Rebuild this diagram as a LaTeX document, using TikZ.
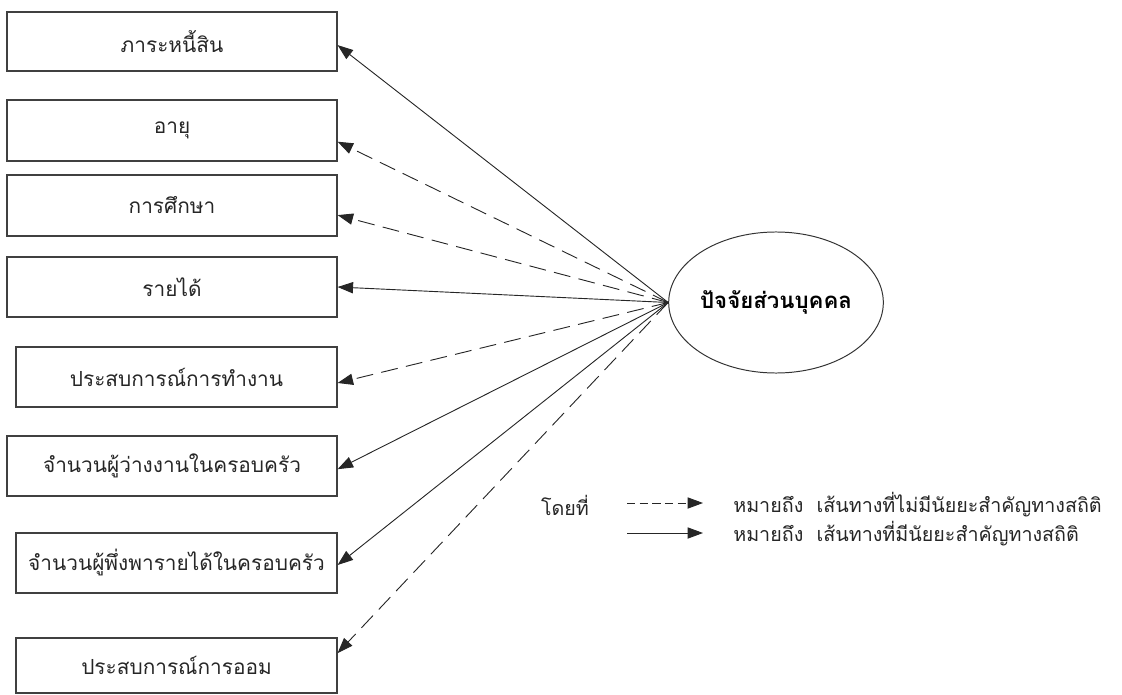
\documentclass[tikz,border=0pt]{standalone}
\usepackage{fontspec}
\setmainfont{Loma}[Script=Thai]
\usetikzlibrary{arrows.meta,shapes.geometric}

\begin{document}
\begin{tikzpicture}[x=0.025cm,y=-0.025cm,font=\fontsize{14pt}{16pt}\selectfont,
  factor/.style={draw=black!75,line width=.8pt,rectangle,text=black!85,minimum height=1.5cm,inner sep=0pt,font=\fontsize{14.8pt}{17pt}\selectfont},
  wide/.style={factor,minimum width=8.25cm},
  narrow/.style={factor,minimum width=8.025cm},
  sig/.style={draw=black!85,line width=.65pt,-{Triangle[length=11pt,width=8pt]}},
  nonsig/.style={sig,dash pattern=on 12pt off 6pt},
  legdash/.style={sig,dash pattern=on 6pt off 3pt}]
\useasboundingbox (0,0) rectangle (1122,695);
% boxes on the left
\node[wide,minimum height=1.475cm] (debt) at (172,41.5) {ภาระหนี้สิน};
\node[wide,minimum height=1.525cm] (age) at (172,130.5) {อายุ};
\node[wide,minimum height=1.525cm] (edu) at (172,205.5) {การศึกษา};
\node[wide] (income) at (172,287) {รายได้};
\node[narrow] (work) at (176.5,377) {ประสบการณ์การทำงาน};
\node[wide] (unemp) at (172,466) {จำนวนผู้ว่างงานในครอบครัว};
\node[narrow] (depend) at (176.5,563) {จำนวนผู้พึ่งพารายได้ในครอบครัว};
\node[narrow,minimum height=1.375cm] (saving) at (176.5,665.5) {ประสบการณ์การออม};
% personal factors
\node[draw=black!80,line width=.7pt,ellipse,minimum width=5.2cm,minimum height=3.525cm,inner sep=0pt,font=\fontsize{15.8pt}{18pt}\selectfont\bfseries] (pf) at (776,302.5) {ปัจจัยส่วนบุคคล};
% paths
\draw[sig] (pf.west) -- ([yshift=-.09cm]debt.east);
\draw[nonsig] (pf.west) -- ([yshift=-.28cm]age.east);
\draw[nonsig] (pf.west) -- ([yshift=-.24cm]edu.east);
\draw[sig] (pf.west) -- (income.east);
\draw[nonsig] (pf.west) -- ([yshift=-.15cm]work.east);
\draw[sig] (pf.west) -- ([yshift=-.08cm]unemp.east);
\draw[sig] (pf.west) -- ([yshift=-.05cm]depend.east);
\draw[nonsig] (pf.west) -- ([yshift=.31cm]saving.east);
% legend
\node[text=black!85] (where) at (565,505) {โดยที่};
\coordinate (ns1) at (627,503);
\coordinate (ns2) at (703,503);
\coordinate (s1) at (627,533);
\coordinate (s2) at (703,533);
\draw[legdash] (ns1) -- (ns2);
\draw[sig] (s1) -- (s2);
\node[anchor=west,text=black!85,inner sep=0pt] (nstext) at (733,505) {หมายถึง\ \ เส้นทางที่ไม่มีนัยยะสำคัญทางสถิติ};
\node[anchor=west,text=black!85,inner sep=0pt] (stext) at (733,534) {หมายถึง\ \ เส้นทางที่มีนัยยะสำคัญทางสถิติ};
\end{tikzpicture}
\end{document}
